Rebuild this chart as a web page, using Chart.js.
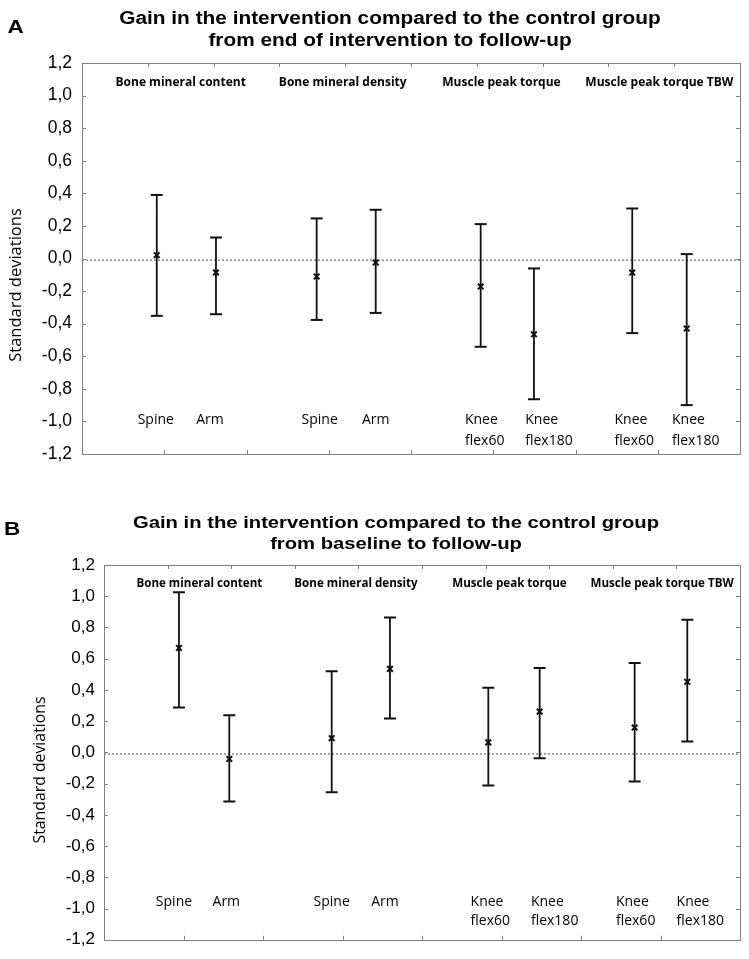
<!DOCTYPE html>
<html>
<head>
<meta charset="utf-8">
<script src="https://cdn.jsdelivr.net/npm/chart.js@4.4.1/dist/chart.umd.min.js"></script>
<style>
  html, body { margin: 0; padding: 0; background: #fff; }
  #wrap { position: relative; width: 749px; height: 959px; background: #fff; }
  canvas { position: absolute; left: 0; }
</style>
</head>
<body>
<div id="wrap">
  <canvas id="chartA" width="749" height="480" style="top:0"></canvas>
  <canvas id="chartB" width="749" height="479" style="top:480px"></canvas>
</div>
<script>
// ---------- DATA ----------
const categories = ['Spine', 'Arm', 'Spine', 'Arm', 'Knee\nflex60', 'Knee\nflex180', 'Knee\nflex60', 'Knee\nflex180'];
const groups = ['Bone mineral content', 'Bone mineral density', 'Muscle peak torque', 'Muscle peak torque TBW'];
const groupX = [1.2, 3.17, 5.1, 7.02];

// Panel A: from end of intervention to follow-up
const titleA = ['Gain in the intervention compared to the control group', 'from end of intervention to follow-up'];
const xA = [0.909, 1.629, 2.853, 3.571, 4.847, 5.495, 6.690, 7.352];
const meanA = [0.02, -0.086, -0.11, -0.025, -0.172, -0.465, -0.086, -0.43];
const upperA = [0.39, 0.129, 0.246, 0.299, 0.211, -0.061, 0.307, 0.027];
const lowerA = [-0.352, -0.342, -0.377, -0.334, -0.542, -0.864, -0.458, -0.90];

// Panel B: from baseline to follow-up
const titleB = ['Gain in the intervention compared to the control group', 'from baseline to follow-up'];
const xB = [0.943, 1.576, 2.864, 3.597, 4.834, 5.48, 6.675, 7.337];
const meanB = [0.669, -0.042, 0.091, 0.535, 0.064, 0.261, 0.159, 0.452];
const upperB = [1.025, 0.238, 0.52, 0.864, 0.414, 0.541, 0.573, 0.849];
const lowerB = [0.287, -0.314, -0.255, 0.217, -0.212, -0.038, -0.187, 0.07];

const yMin = -1.2, yMax = 1.2, yStep = 0.2;
const xBottomMax = 8, xTopMax = 10;
const zeroRef = -0.01;
const yTitle = 'Standard deviations';

// ---------- LAYOUT / STYLE ----------
const layoutA = {
  letter: 'A', letterPos: [15.5, 33.3], letterFont: 18,
  titleX: 390, titleBase: [24.3, 45.7], titleFont: 17.5,
  pad: { left: 0, right: 9, top: 63, bottom: 26 }, axisWidth: 82,
  tickFont: 17.5, tickPad: 10,
  groupY: 1.08, groupFont: 12,
  catY: [-0.99, -1.12], catFont: 14,
  catShift: [-1, -6, 3, 0, 4, 15, 2, 9],
  yTitlePos: [16.7, 285], yTitleFont: 16.5
};
const layoutB = {
  letter: 'B', letterPos: [12, 55], letterFont: 18,
  titleX: 396, titleBase: [48, 69.3], titleFont: 17,
  pad: { left: 0, right: 9, top: 85, bottom: 17 }, axisWidth: 104,
  tickFont: 17, tickPad: 9,
  groupY: 1.08, groupFont: 11.6,
  catY: [-0.955, -1.08], catFont: 14,
  catShift: [-5, -3, 0, -5, 2, 15, 1, 13],
  yTitlePos: [40, 290], yTitleFont: 15.8
};

const frameColor = '#7f7f7f';
const barColor = '#111111';

function fmt(v) {
  if (Math.abs(v) < 1e-9) v = 0;
  return v.toFixed(1).replace('.', ',');
}

const framePlugin = {
  id: 'frameTicks',
  afterDatasetsDraw(chart) {
    const ctx = chart.ctx, a = chart.chartArea;
    const ys = chart.scales.y, xb = chart.scales.x, xt = chart.scales.xTop;
    ctx.save();
    ctx.strokeStyle = frameColor;
    ctx.lineWidth = 1;
    ctx.strokeRect(Math.round(a.left) + 0.5, Math.round(a.top) + 0.5,
                   Math.round(a.right - a.left), Math.round(a.bottom - a.top));
    const L = 4;
    ctx.beginPath();
    ys.ticks.forEach(t => {
      const y = Math.round(ys.getPixelForValue(t.value)) + 0.5;
      ctx.moveTo(a.left, y); ctx.lineTo(a.left + L, y);
      ctx.moveTo(a.right, y); ctx.lineTo(a.right - L, y);
    });
    for (let i = 1; i < xBottomMax; i++) {
      const x = Math.round(xb.getPixelForValue(i)) + 0.5;
      ctx.moveTo(x, a.bottom); ctx.lineTo(x, a.bottom - L);
    }
    for (let i = 1; i < xTopMax; i++) {
      const x = Math.round(xt.getPixelForValue(i)) + 0.5;
      ctx.moveTo(x, a.top); ctx.lineTo(x, a.top + L);
    }
    ctx.stroke();
    ctx.restore();
  }
};

const textPlugin = {
  id: 'panelTexts',
  afterDraw(chart, args, o) {
    const ctx = chart.ctx;
    const xs = chart.scales.x, ys = chart.scales.y;
    const L = o.layout;
    ctx.save();
    ctx.fillStyle = '#000';
    // panel letter
    ctx.font = 'bold ' + L.letterFont + 'px "Liberation Sans", Arial, sans-serif';
    ctx.textAlign = 'center'; ctx.textBaseline = 'alphabetic';
    ctx.save();
    ctx.translate(L.letterPos[0], L.letterPos[1]);
    ctx.scale(1.25, 1);
    ctx.fillText(L.letter, 0, 0);
    ctx.restore();
    // titles
    ctx.font = 'bold ' + L.titleFont + 'px "Liberation Sans", Arial, sans-serif';
    o.title.forEach((line, i) => {
      ctx.save();
      ctx.translate(L.titleX, L.titleBase[i]);
      ctx.scale(1.19, 1);
      ctx.fillText(line, 0, 0);
      ctx.restore();
    });
    // group labels
    ctx.font = 'bold ' + L.groupFont + 'px "Open Sans", sans-serif';
    ctx.textBaseline = 'middle';
    groups.forEach((g, i) => {
      ctx.fillText(g, xs.getPixelForValue(groupX[i]), ys.getPixelForValue(L.groupY));
    });
    // category labels
    ctx.font = L.catFont + 'px "Open Sans", sans-serif';
    categories.forEach((c, i) => {
      const lines = c.split('\n');
      const px = xs.getPixelForValue(o.xs[i]) + L.catShift[i];
      if (lines.length === 1) {
        ctx.textAlign = 'center';
        ctx.fillText(lines[0], px, ys.getPixelForValue(L.catY[0]));
      } else {
        const w = Math.max(...lines.map(s => ctx.measureText(s).width));
        ctx.textAlign = 'left';
        lines.forEach((s, k) => ctx.fillText(s, px - w / 2, ys.getPixelForValue(L.catY[k])));
      }
    });
    // y-axis title
    ctx.font = L.yTitleFont + 'px "Open Sans", sans-serif';
    ctx.textAlign = 'center';
    ctx.save();
    ctx.translate(L.yTitlePos[0], L.yTitlePos[1]);
    ctx.rotate(-Math.PI / 2);
    ctx.fillText(yTitle, 0, 0);
    ctx.restore();
    ctx.restore();
  }
};

function buildChart(id, xs, mean, upper, lower, title, L) {
  const whiskers = [];
  const caps = [];
  xs.forEach((x, i) => {
    whiskers.push({ x: x, y: lower[i] }, { x: x, y: upper[i] }, { x: x, y: null });
    caps.push({ x: x, y: lower[i] }, { x: x, y: upper[i] });
  });
  const means = xs.map((x, i) => ({ x: x, y: mean[i] }));
  return new Chart(document.getElementById(id), {
    type: 'scatter',
    data: {
      datasets: [
        {
          type: 'line', label: 'zero', data: [{ x: 0, y: zeroRef }, { x: xBottomMax, y: zeroRef }],
          borderColor: '#4a4a4a', borderWidth: 1, borderDash: [2, 2], pointRadius: 0, order: 4
        },
        {
          type: 'line', label: 'CI', data: whiskers, spanGaps: false,
          borderColor: barColor, borderWidth: 1.8, pointRadius: 0, order: 3
        },
        {
          label: 'caps', data: caps, pointStyle: 'line', pointRadius: 6,
          borderColor: barColor, borderWidth: 2, order: 2
        },
        {
          label: 'mean', data: means, pointStyle: 'crossRot', pointRadius: 4,
          borderColor: barColor, backgroundColor: barColor, borderWidth: 2, order: 1
        }
      ]
    },
    options: {
      responsive: false,
      animation: false,
      events: [],
      layout: { padding: L.pad },
      plugins: {
        legend: { display: false },
        tooltip: { enabled: false },
        title: { display: false },
        panelTexts: { layout: L, title: title, xs: xs }
      },
      scales: {
        x: { type: 'linear', min: 0, max: xBottomMax, display: false },
        xTop: { type: 'linear', position: 'top', min: 0, max: xTopMax, display: false },
        y: {
          type: 'linear', min: yMin, max: yMax,
          afterFit(scale) { scale.width = L.axisWidth; },
          grid: { display: false, drawTicks: false },
          border: { display: false },
          ticks: {
            stepSize: yStep, padding: L.tickPad, color: '#000',
            font: { family: '"Liberation Sans", Arial, sans-serif', size: L.tickFont },
            callback: v => fmt(v)
          }
        }
      }
    },
    plugins: [framePlugin, textPlugin]
  });
}

buildChart('chartA', xA, meanA, upperA, lowerA, titleA, layoutA);
buildChart('chartB', xB, meanB, upperB, lowerB, titleB, layoutB);
</script>
</body>
</html>
